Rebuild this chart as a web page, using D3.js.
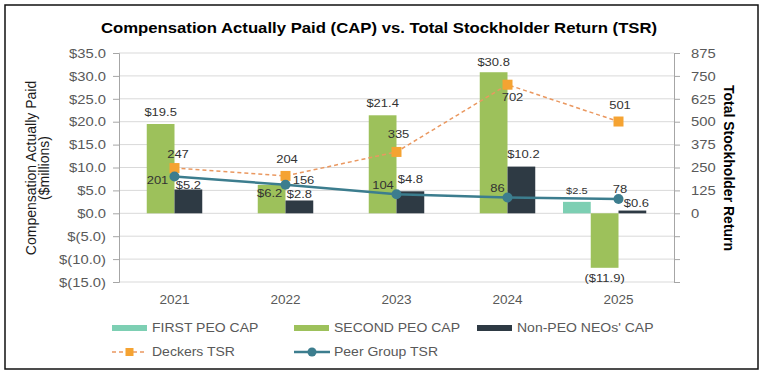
<!DOCTYPE html>
<html><head><meta charset="utf-8">
<script src="https://cdn.jsdelivr.net/npm/d3@7"></script>
<style>
html,body{margin:0;padding:0;background:#fff;}
svg{display:block;font-family:"Liberation Sans",Arial,sans-serif;}
</style></head>
<body>
<svg id="chart" width="766" height="373"></svg>
<script>
// ---- data ----
const years = ["2021", "2022", "2023", "2024", "2025"];
const firstPeoCap = [null, null, null, null, 2.5];
const secondPeoCap = [19.5, 6.2, 21.4, 30.8, -11.9];
const nonPeoCap = [5.2, 2.8, 4.8, 10.2, 0.6];
const deckersTsr = [247, 204, 335, 702, 501];
const peerTsr = [201, 156, 104, 86, 78];
const capTicks = [-15, -10, -5, 0, 5, 10, 15, 20, 25, 30, 35];
const tsrTicks = [-375, -250, -125, 0, 125, 250, 375, 500, 625, 750, 875];
const seriesNames = ["FIRST PEO CAP", "SECOND PEO CAP", "Non-PEO NEOs' CAP", "Deckers TSR", "Peer Group TSR"];
const titleText = "Compensation Actually Paid (CAP) vs. Total Stockholder Return (TSR)";

// ---- layout / style ----
const SX = 1.13;
const C = {first: "#7DCFB3", second: "#9DC15B", non: "#2E3A44", deck: "#F5A332", deckLine: "#EA9860", peer: "#3C7D8E"};
const plot = {l: 119, r: 674, t: 53, b: 282};

const svg = d3.select("#chart");
svg.append("rect").attr("x", 5).attr("y", 5).attr("width", 753).attr("height", 364)
  .attr("fill", "#fff").attr("stroke", "#111").attr("stroke-width", 1.5);

function T(x, y, str, o = {}) {
  const t = svg.append("text")
    .attr("transform", `translate(${x},${y}) scale(${o.sx || SX},1)`)
    .attr("dy", "0.35em")
    .attr("text-anchor", o.anchor || "middle")
    .attr("font-size", (o.size || 12) + "px")
    .attr("fill", o.fill || "#333")
    .text(str);
  if (o.bold) t.attr("font-weight", "bold");
  return t;
}

const x0 = d3.scaleBand().domain(years).range([plot.l, plot.r]).padding(0);
const x1 = d3.scaleBand().domain(["first", "second", "non", "gap"]).range([0, x0.bandwidth()]).padding(0);
const yL = d3.scaleLinear().domain([-15, 35]).range([plot.b, plot.t]);
const yR = d3.scaleLinear().domain([-375, 875]).range([plot.b, plot.t]);

// gridlines
svg.append("g").selectAll("line").data(capTicks).join("line")
  .attr("x1", plot.l).attr("x2", plot.r)
  .attr("y1", d => yL(d)).attr("y2", d => yL(d))
  .attr("stroke", "#D9D9D9").attr("stroke-width", 1);

// axes
const fmtTick = d => d < 0 ? `$(${Math.abs(d).toFixed(1)})` : `$${d.toFixed(1)}`;
const gL = svg.append("g").attr("transform", `translate(${plot.l},0)`)
  .call(d3.axisLeft(yL).tickValues(capTicks).tickFormat(fmtTick).tickSize(6).tickPadding(7));
const gR = svg.append("g").attr("transform", `translate(${plot.r},0)`)
  .call(d3.axisRight(yR).tickValues(tsrTicks).tickFormat(d => d < 0 ? "" : d).tickSize(6).tickPadding(11));
[gL, gR].forEach(g => {
  g.select(".domain").attr("stroke", "#A6A6A6");
  g.selectAll(".tick line").attr("stroke", "#A6A6A6");
  g.selectAll(".tick text").attr("fill", "#595959").attr("font-size", "13.1px")
    .attr("font-family", "'Liberation Sans',Arial,sans-serif");
  g.selectAll(".tick text").each(function () {
    const t = d3.select(this); const x = +t.attr("x");
    t.attr("transform", `translate(${x},0) scale(${SX},1)`).attr("x", 0);
  });
});

// x labels
years.forEach(y => T(x0(y) + x0.bandwidth() / 2, 300, y, {size: 12, fill: "#595959"}));

// bars
const barSeries = [
  {key: "first", vals: firstPeoCap, color: C.first},
  {key: "second", vals: secondPeoCap, color: C.second},
  {key: "non", vals: nonPeoCap, color: C.non}
];
barSeries.forEach(s => {
  svg.append("g").selectAll("rect").data(years.map((y, i) => ({y, v: s.vals[i]})).filter(d => d.v !== null))
    .join("rect")
    .attr("x", d => x0(d.y) + x1(s.key))
    .attr("width", x1.bandwidth())
    .attr("y", d => yL(Math.max(0, d.v)))
    .attr("height", d => Math.abs(yL(d.v) - yL(0)))
    .attr("fill", s.color);
});

// lines
const deckPts = years.map((y, i) => [x0(y) + x0.bandwidth() / 2, yR(deckersTsr[i])]);
const peerPts = years.map((y, i) => [x0(y) + x0.bandwidth() / 2, yR(peerTsr[i])]);
svg.append("path").attr("d", d3.line()(deckPts)).attr("fill", "none")
  .attr("stroke", C.deckLine).attr("stroke-width", 1.5).attr("stroke-dasharray", "4,3");
svg.append("path").attr("d", d3.line()(peerPts)).attr("fill", "none")
  .attr("stroke", C.peer).attr("stroke-width", 2.5);
svg.append("g").selectAll("rect").data(deckPts).join("rect")
  .attr("x", d => d[0] - 5).attr("y", d => d[1] - 5).attr("width", 10).attr("height", 10).attr("fill", C.deck);
svg.append("g").selectAll("circle").data(peerPts).join("circle")
  .attr("cx", d => d[0]).attr("cy", d => d[1]).attr("r", 5).attr("fill", C.peer);

// data labels (offsets relative to bar end / marker)
const fmtVal = d => d < 0 ? `($${Math.abs(d).toFixed(1)})` : `$${d.toFixed(1)}`;
const LS = 11.5;
const secondOff = [[0, -12], [-2, 8], [0, -12], [0, -10], [0, 10]];
const nonOff = [[0, -5], [0, -7], [0, -12], [2, -13], [4, -8]];
const firstOff = [null, null, null, null, [0, -11.5]];
function barLabels(vals, key, offs, size) {
  vals.forEach((v, i) => {
    if (v === null) return;
    const cx = x0(years[i]) + x1(key) + x1.bandwidth() / 2;
    const end = yL(v);
    T(cx + offs[i][0], end + offs[i][1], fmtVal(v), {size});
  });
}
barLabels(secondPeoCap, "second", secondOff, LS);
barLabels(nonPeoCap, "non", nonOff, LS);
barLabels(firstPeoCap, "first", firstOff, 9.8);

const deckOff = [[3.5, -14], [1.5, -17], [2, -18], [5, 12], [1.5, -17]];
const peerOff = [[-17, 3], [18, -4.5], [-13.5, -9], [-10, -10], [1.5, -10]];
deckPts.forEach((p, i) => T(p[0] + deckOff[i][0], p[1] + deckOff[i][1], deckersTsr[i], {size: LS}));
peerPts.forEach((p, i) => T(p[0] + peerOff[i][0], p[1] + peerOff[i][1], peerTsr[i], {size: LS}));

// title
T(379, 28, titleText, {size: 15, bold: true, fill: "#000", sx: 1.115});

// axis titles
svg.append("text").attr("transform", "translate(31,168) rotate(-90)").attr("dy", "0.35em")
  .attr("text-anchor", "middle").attr("font-size", "14px").attr("fill", "#1a1a1a").text("Compensation Actually Paid");
svg.append("text").attr("transform", "translate(44,168) rotate(-90)").attr("dy", "0.35em")
  .attr("text-anchor", "middle").attr("font-size", "14px").attr("fill", "#1a1a1a").text("($millions)");
svg.append("text").attr("transform", "translate(729,168) rotate(90)").attr("dy", "0.35em")
  .attr("text-anchor", "middle").attr("font-size", "14px").attr("font-weight", "bold").attr("fill", "#000")
  .text("Total Stockholder Return");

// legend
const LX = [112, 294, 477];
const LS2 = 12.4;
[[firstPeoCap, C.first], [secondPeoCap, C.second], [nonPeoCap, C.non]].forEach((s, i) => {
  svg.append("rect").attr("x", LX[i]).attr("y", 325).attr("width", 35).attr("height", 6).attr("fill", s[1]);
  T(LX[i] + 40, 327.5, seriesNames[i], {anchor: "start", size: LS2, fill: "#595959"});
});
svg.append("line").attr("x1", LX[0]).attr("x2", LX[0] + 35).attr("y1", 352).attr("y2", 352)
  .attr("stroke", C.deckLine).attr("stroke-width", 1.5).attr("stroke-dasharray", "4,3");
svg.append("rect").attr("x", LX[0] + 13.5).attr("y", 348).attr("width", 8).attr("height", 8).attr("fill", C.deck);
T(LX[0] + 40, 352, seriesNames[3], {anchor: "start", size: LS2, fill: "#595959"});
svg.append("line").attr("x1", LX[1]).attr("x2", LX[1] + 36).attr("y1", 352).attr("y2", 352)
  .attr("stroke", C.peer).attr("stroke-width", 2.5);
svg.append("circle").attr("cx", LX[1] + 18).attr("cy", 352).attr("r", 4.5).attr("fill", C.peer);
T(LX[1] + 40, 352, seriesNames[4], {anchor: "start", size: LS2, fill: "#595959"});
</script>
</body></html>
